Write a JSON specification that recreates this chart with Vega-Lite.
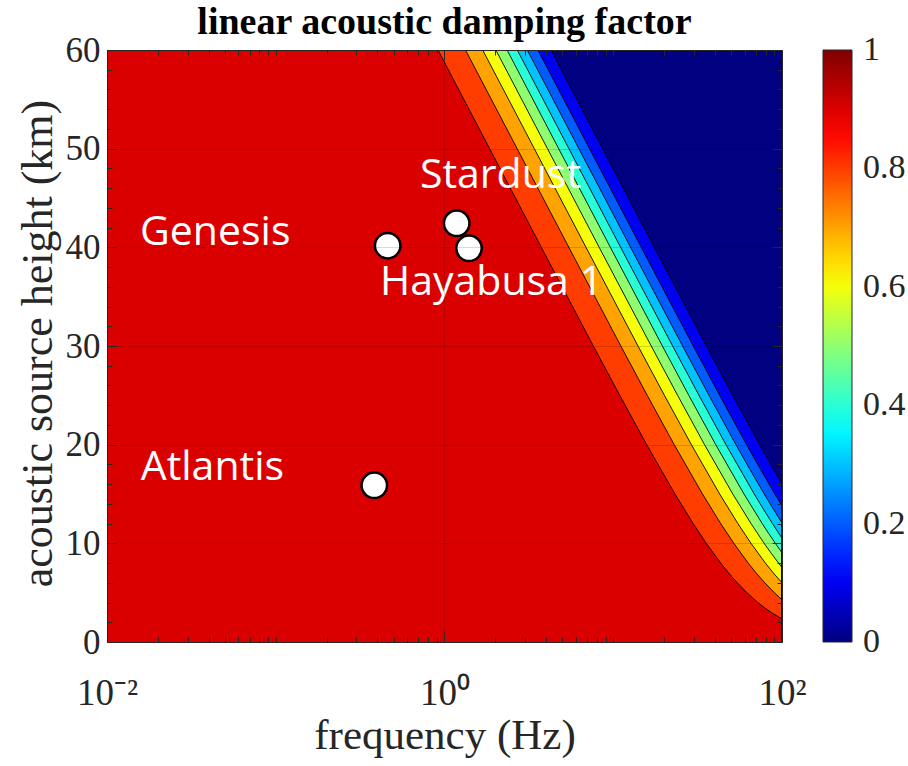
{
  "$schema": "https://vega.github.io/schema/vega-lite/v6.json",
  "width": 675,
  "height": 592,
  "autosize": {"type": "none"},
  "padding": {"left": 107, "top": 50, "right": 126, "bottom": 124},
  "background": "#ffffff",
  "config": {"view": {"stroke": null}},
  "title": {"text": "linear acoustic damping factor", "font": "Liberation Serif", "fontSize": 38, "fontWeight": "bold", "color": "#000000", "anchor": "middle", "offset": -39, "baseline": "alphabetic"},
  "datasets": {
    "bands": [
      {"band": 0.9, "h": 60, "f": 0.01}, {"band": 0.9, "h": 0, "f": 0.01},
      {"band": 0.8, "h": 60, "f": 0.915}, {"band": 0.8, "h": 50, "f": 1.851}, {"band": 0.8, "h": 40, "f": 3.749}, {"band": 0.8, "h": 30, "f": 7.622}, {"band": 0.8, "h": 25, "f": 10.93}, {"band": 0.8, "h": 20, "f": 15.78}, {"band": 0.8, "h": 15, "f": 23.21}, {"band": 0.8, "h": 12, "f": 29.78}, {"band": 0.8, "h": 10, "f": 35.6}, {"band": 0.8, "h": 8, "f": 43.33}, {"band": 0.8, "h": 7, "f": 48.29}, {"band": 0.8, "h": 6, "f": 54.3}, {"band": 0.8, "h": 5, "f": 61.9}, {"band": 0.8, "h": 4, "f": 71.96}, {"band": 0.8, "h": 3.5, "f": 78.42}, {"band": 0.8, "h": 3, "f": 86.3}, {"band": 0.8, "h": 2.5, "f": 96.34}, {"band": 0.8, "h": 2.35, "f": 100}, {"band": 0.8, "h": 0, "f": 100},
      {"band": 0.7, "h": 60, "f": 1.332}, {"band": 0.7, "h": 50, "f": 2.694}, {"band": 0.7, "h": 40, "f": 5.457}, {"band": 0.7, "h": 30, "f": 11.09}, {"band": 0.7, "h": 25, "f": 15.9}, {"band": 0.7, "h": 20, "f": 22.97}, {"band": 0.7, "h": 15, "f": 33.78}, {"band": 0.7, "h": 12, "f": 43.33}, {"band": 0.7, "h": 10, "f": 51.82}, {"band": 0.7, "h": 8, "f": 63.06}, {"band": 0.7, "h": 7, "f": 70.27}, {"band": 0.7, "h": 6, "f": 79.04}, {"band": 0.7, "h": 5, "f": 90.1}, {"band": 0.7, "h": 4.5, "f": 96.85}, {"band": 0.7, "h": 4.29, "f": 100}, {"band": 0.7, "h": 0, "f": 100},
      {"band": 0.6, "h": 60, "f": 1.684}, {"band": 0.6, "h": 50, "f": 3.406}, {"band": 0.6, "h": 40, "f": 6.898}, {"band": 0.6, "h": 30, "f": 14.02}, {"band": 0.6, "h": 25, "f": 20.1}, {"band": 0.6, "h": 20, "f": 29.04}, {"band": 0.6, "h": 15, "f": 42.71}, {"band": 0.6, "h": 12, "f": 54.78}, {"band": 0.6, "h": 10, "f": 65.51}, {"band": 0.6, "h": 8, "f": 79.72}, {"band": 0.6, "h": 7, "f": 88.84}, {"band": 0.6, "h": 6, "f": 100}, {"band": 0.6, "h": 0, "f": 100},
      {"band": 0.5, "h": 60, "f": 2.015}, {"band": 0.5, "h": 50, "f": 4.076}, {"band": 0.5, "h": 40, "f": 8.254}, {"band": 0.5, "h": 30, "f": 16.79}, {"band": 0.5, "h": 25, "f": 24.06}, {"band": 0.5, "h": 20, "f": 34.75}, {"band": 0.5, "h": 15, "f": 51.1}, {"band": 0.5, "h": 12, "f": 65.56}, {"band": 0.5, "h": 10, "f": 78.4}, {"band": 0.5, "h": 9, "f": 86.26}, {"band": 0.5, "h": 8, "f": 95.41}, {"band": 0.5, "h": 7.56, "f": 100}, {"band": 0.5, "h": 0, "f": 100},
      {"band": 0.4, "h": 60, "f": 2.348}, {"band": 0.4, "h": 50, "f": 4.748}, {"band": 0.4, "h": 40, "f": 9.616}, {"band": 0.4, "h": 30, "f": 19.55}, {"band": 0.4, "h": 25, "f": 28.03}, {"band": 0.4, "h": 20, "f": 40.49}, {"band": 0.4, "h": 15, "f": 59.54}, {"band": 0.4, "h": 12, "f": 76.37}, {"band": 0.4, "h": 11, "f": 83.37}, {"band": 0.4, "h": 10, "f": 91.33}, {"band": 0.4, "h": 9.05, "f": 100}, {"band": 0.4, "h": 0, "f": 100},
      {"band": 0.3, "h": 60, "f": 2.699}, {"band": 0.3, "h": 50, "f": 5.459}, {"band": 0.3, "h": 40, "f": 11.06}, {"band": 0.3, "h": 30, "f": 22.48}, {"band": 0.3, "h": 25, "f": 32.22}, {"band": 0.3, "h": 20, "f": 46.55}, {"band": 0.3, "h": 15, "f": 68.45}, {"band": 0.3, "h": 13.5, "f": 77.36}, {"band": 0.3, "h": 12, "f": 87.8}, {"band": 0.3, "h": 11, "f": 95.85}, {"band": 0.3, "h": 10.53, "f": 100}, {"band": 0.3, "h": 0, "f": 100},
      {"band": 0.2, "h": 60, "f": 3.094}, {"band": 0.2, "h": 50, "f": 6.257}, {"band": 0.2, "h": 40, "f": 12.67}, {"band": 0.2, "h": 30, "f": 25.77}, {"band": 0.2, "h": 25, "f": 36.93}, {"band": 0.2, "h": 20, "f": 53.36}, {"band": 0.2, "h": 17.5, "f": 64.51}, {"band": 0.2, "h": 15, "f": 78.48}, {"band": 0.2, "h": 13.5, "f": 88.67}, {"band": 0.2, "h": 12.07, "f": 100}, {"band": 0.2, "h": 0, "f": 100},
      {"band": 0.1, "h": 60, "f": 3.577}, {"band": 0.1, "h": 50, "f": 7.235}, {"band": 0.1, "h": 40, "f": 14.65}, {"band": 0.1, "h": 30, "f": 29.8}, {"band": 0.1, "h": 25, "f": 42.7}, {"band": 0.1, "h": 20, "f": 61.69}, {"band": 0.1, "h": 17.5, "f": 74.58}, {"band": 0.1, "h": 15, "f": 90.72}, {"band": 0.1, "h": 13.8, "f": 100}, {"band": 0.1, "h": 0, "f": 100},
      {"band": 0.0, "h": 60, "f": 4.279}, {"band": 0.0, "h": 50, "f": 8.653}, {"band": 0.0, "h": 40, "f": 17.52}, {"band": 0.0, "h": 30, "f": 35.64}, {"band": 0.0, "h": 25, "f": 51.07}, {"band": 0.0, "h": 20, "f": 73.79}, {"band": 0.0, "h": 17.5, "f": 89.22}, {"band": 0.0, "h": 16.03, "f": 100}, {"band": 0.0, "h": 0, "f": 100}
    ],
    "missions": [
      {"name": "Genesis", "f": 0.4605, "h": 40.17},
      {"name": "Stardust", "f": 1.181, "h": 42.44},
      {"name": "Hayabusa 1", "f": 1.397, "h": 39.9},
      {"name": "Atlantis", "f": 0.3837, "h": 15.88}
    ],
    "labels": [
      {"name": "Genesis", "f": 0.01569, "h": 40.24},
      {"name": "Stardust", "f": 0.7157, "h": 46.01},
      {"name": "Hayabusa 1", "f": 0.4147, "h": 35.17},
      {"name": "Atlantis", "f": 0.01584, "h": 16.42}
    ]
  },
  "resolve": {"axis": {"x": "independent", "y": "independent"}},
  "layer": [
    {
      "data": {"name": "bands"},
      "mark": {"type": "area", "orient": "horizontal", "clip": true},
      "encoding": {
        "y": {
          "field": "h", "type": "quantitative",
          "scale": {"domain": [0, 60], "nice": false, "zero": false},
          "axis": {
            "orient": "left",
            "values": [0, 2, 4, 6, 8, 10, 12, 14, 16, 18, 20, 22, 24, 26, 28, 30, 32, 34, 36, 38, 40, 42, 44, 46, 48, 50, 52, 54, 56, 58, 60],
            "labelExpr": "datum.value % 10 == 0 ? datum.label : ''",
            "labelFont": "Liberation Serif", "labelFontSize": 35, "labelColor": "#262626",
            "labelPadding": 17, "labelFlush": false, "labelOverlap": false, "labelBound": false, "labelBaseline": "middle",
            "tickSize": {"condition": {"test": "datum.value % 10 == 0", "value": -10}, "value": -5},
            "tickColor": "#262626", "tickWidth": 1,
            "domainColor": "#262626", "domainWidth": 1,
            "grid": true, "gridColor": "#000000",
            "gridOpacity": {"condition": {"test": "datum.value % 10 == 0", "value": 0.15}, "value": 0},
            "title": "acoustic source height (km)", "titleFont": "Liberation Serif", "titleFontSize": 44, "titleFontWeight": "normal", "titleColor": "#262626",
            "titleX": -56, "titleY": 293, "titleBaseline": "alphabetic",
            "zindex": 1
          }
        },
        "x": {
          "field": "f", "type": "quantitative", "stack": null,
          "scale": {"type": "log", "domain": [0.01, 100], "nice": false},
          "axis": {
            "orient": "bottom",
            "values": [0.01, 0.02, 0.03, 0.04, 0.05, 0.06, 0.07, 0.08, 0.09, 0.1, 0.2, 0.3, 0.4, 0.5, 0.6, 0.7, 0.8, 0.9, 1, 2, 3, 4, 5, 6, 7, 8, 9, 10, 20, 30, 40, 50, 60, 70, 80, 90, 100],
            "labelExpr": "datum.value == 0.01 ? '10⁻²' : datum.value == 1 ? '10⁰' : datum.value == 100 ? '10²' : ''",
            "labelFont": "Liberation Serif", "labelFontSize": 37, "labelColor": "#262626",
            "labelPadding": 72, "labelFlush": false, "labelOverlap": false, "labelBound": false, "labelBaseline": "alphabetic",
            "tickSize": {"condition": {"test": "datum.value == 0.01 || datum.value == 1 || datum.value == 100", "value": -10}, "value": -5},
            "tickColor": "#262626", "tickWidth": 1,
            "domainColor": "#262626", "domainWidth": 1,
            "grid": true, "gridColor": "#000000",
            "gridOpacity": {"condition": {"test": "datum.value == 1", "value": 0.15}, "value": 0},
            "title": "frequency (Hz)", "titleFont": "Liberation Serif", "titleFontSize": 43, "titleFontWeight": "normal", "titleColor": "#262626",
            "titleY": 106, "titleBaseline": "alphabetic",
            "zindex": 1
          }
        },
        "x2": {"datum": 100},
        "detail": {"field": "band"},
        "color": {
          "field": "band", "type": "quantitative",
          "scale": {"type": "linear", "domain": [-0.0001, 0.11, 0.36, 0.61, 0.86, 1.0001], "range": ["#000080", "#0000ff", "#00ffff", "#ffff00", "#ff0000", "#800000"], "interpolate": "rgb"},
          "legend": {
            "title": null, "orient": "right", "offset": 40, "padding": 0,
            "gradientLength": 592, "gradientThickness": 29,
            "gradientStrokeColor": "#262626", "gradientStrokeWidth": 1,
            "values": [0, 0.2, 0.4, 0.6, 0.8, 1], "format": "~g",
            "labelFont": "Liberation Serif", "labelFontSize": 34, "labelColor": "#262626",
            "labelOffset": 11, "labelBaseline": "middle", "labelOverlap": false
          }
        }
      }
    },
    {
      "data": {"name": "bands"},
      "transform": [{"filter": "datum.band < 0.9"}],
      "mark": {"type": "line", "color": "#000000", "strokeWidth": 0.9, "clip": true},
      "encoding": {
        "x": {
          "field": "f", "type": "quantitative",
          "axis": {
            "orient": "top", "labels": false, "title": null, "grid": false,
            "values": [0.01, 0.02, 0.03, 0.04, 0.05, 0.06, 0.07, 0.08, 0.09, 0.1, 0.2, 0.3, 0.4, 0.5, 0.6, 0.7, 0.8, 0.9, 1, 2, 3, 4, 5, 6, 7, 8, 9, 10, 20, 30, 40, 50, 60, 70, 80, 90, 100],
            "tickSize": {"condition": {"test": "datum.value == 0.01 || datum.value == 1 || datum.value == 100", "value": -10}, "value": -5},
            "tickColor": "#262626", "tickWidth": 1,
            "domainColor": "#262626", "domainWidth": 1,
            "minExtent": 0, "maxExtent": 0,
            "zindex": 1
          }
        },
        "y": {
          "field": "h", "type": "quantitative",
          "axis": {
            "orient": "right", "labels": false, "title": null, "grid": false,
            "values": [0, 2, 4, 6, 8, 10, 12, 14, 16, 18, 20, 22, 24, 26, 28, 30, 32, 34, 36, 38, 40, 42, 44, 46, 48, 50, 52, 54, 56, 58, 60],
            "tickSize": {"condition": {"test": "datum.value % 10 == 0", "value": -10}, "value": -5},
            "tickColor": "#262626", "tickWidth": 1,
            "domainColor": "#262626", "domainWidth": 1,
            "minExtent": 0, "maxExtent": 0,
            "zindex": 1
          }
        },
        "detail": {"field": "band"},
        "order": {"field": "h", "type": "quantitative"}
      }
    },
    {
      "data": {"name": "missions"},
      "mark": {"type": "circle", "fill": "#ffffff", "stroke": "#000000", "strokeWidth": 2.5, "size": 650, "opacity": 1},
      "encoding": {
        "x": {"field": "f", "type": "quantitative", "axis": null},
        "y": {"field": "h", "type": "quantitative", "axis": null}
      }
    },
    {
      "data": {"name": "labels"},
      "mark": {"type": "text", "align": "left", "baseline": "alphabetic", "font": "Open Sans", "fontSize": 41, "color": "#ffffff"},
      "encoding": {
        "x": {"field": "f", "type": "quantitative", "axis": null},
        "y": {"field": "h", "type": "quantitative", "axis": null},
        "text": {"field": "name"}
      }
    }
  ]
}
